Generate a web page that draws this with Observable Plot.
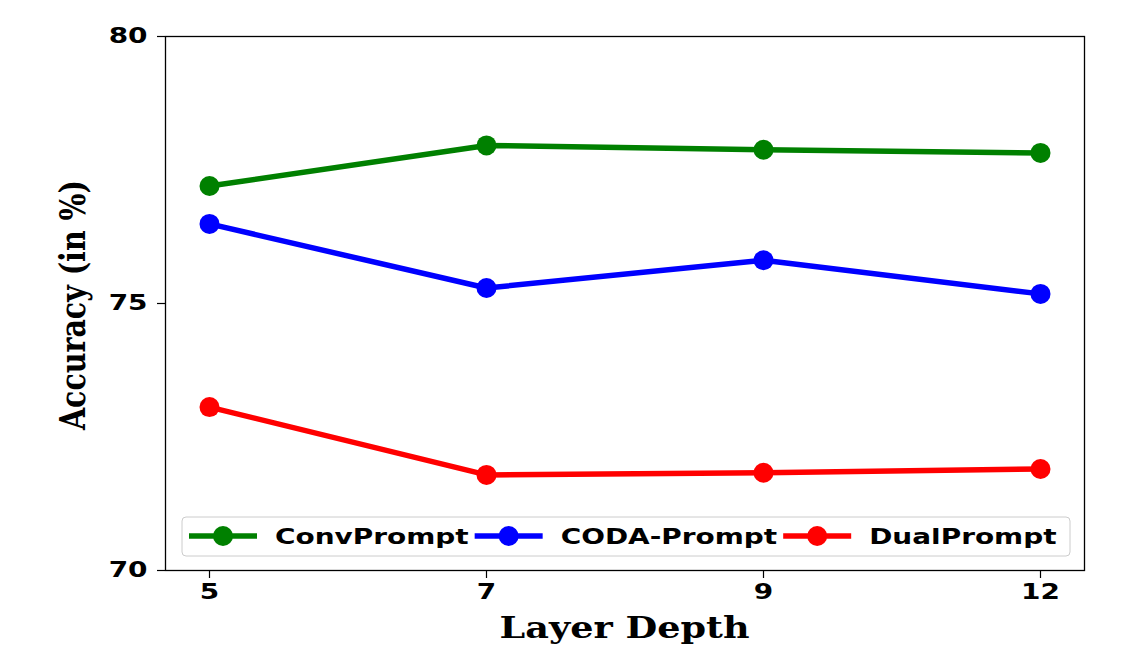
<!DOCTYPE html>
<html><head><meta charset="utf-8">
<script src="https://cdn.jsdelivr.net/npm/d3@7"></script>
<script src="https://cdn.jsdelivr.net/npm/@observablehq/plot@0.6"></script>
<style>
body{margin:0;background:#fff}
#chart{position:relative;width:1144px;height:646px;overflow:hidden}
#chart svg text{font-weight:bold}
</style>
</head><body><div id="chart"></div>
<script>
const layers = ["5", "7", "9", "12"];
const convPrompt = [77.20, 77.96, 77.88, 77.82];
const codaPrompt = [76.49, 75.29, 75.81, 75.18];
const dualPrompt = [73.06, 71.79, 71.83, 71.90];
const seriesNames = ["ConvPrompt", "CODA-Prompt", "DualPrompt"];
const seriesColors = ["#008000", "#0000ff", "#ff0000"];
const yTicks = [70, 75, 80];
const xLabel = "Layer Depth";
const yLabel = "Accuracy (in %)";

const data = [];
[convPrompt, codaPrompt, dualPrompt].forEach((vals, i) =>
  vals.forEach((v, j) => data.push({layer: layers[j], acc: v, series: seriesNames[i]})));

const plot = Plot.plot({
  width: 1144, height: 646,
  marginLeft: 165, marginRight: 60, marginTop: 36, marginBottom: 76,
  style: {background: "#fff", fontFamily: "DejaVu Sans", fontSize: "21px", color: "#000", overflow: "visible"},
  x: {type: "point", domain: layers, padding: 0.155, label: null},
  y: {domain: [70, 80], label: null},
  color: {domain: seriesNames, range: seriesColors},
  marks: [
    Plot.axisX({tickSize: 8, tickPadding: 6, fontSize: 21, stroke: "#000", strokeWidth: 1.2, label: null}),
    Plot.axisY({ticks: yTicks, tickSize: 8, tickPadding: 10, fontSize: 21, stroke: "#000", strokeWidth: 1.2, label: null}),
    Plot.line(data, {x: "layer", y: "acc", z: "series", stroke: "series", strokeWidth: 5.5}),
    Plot.dot(data, {x: "layer", y: "acc", fill: "series", r: 10}),
    Plot.frame({stroke: "#000", strokeWidth: 1.3})
  ]
});
document.getElementById("chart").appendChild(plot);

const svg = d3.select(plot);
// widen tick labels like the reference rendering
svg.selectAll('g[aria-label$="tick label"] text').each(function() {
  const w = this.getComputedTextLength();
  this.setAttribute("textLength", w * 1.33);
  this.setAttribute("lengthAdjust", "spacingAndGlyphs");
});

// axis titles
svg.append("text")
  .attr("x", (165 + 1084) / 2).attr("y", 638)
  .attr("text-anchor", "middle")
  .attr("font-family", "DejaVu Serif").attr("font-size", 30).attr("font-weight", "bold")
  .attr("textLength", 250).attr("lengthAdjust", "spacingAndGlyphs")
  .text(xLabel);
svg.append("text")
  .attr("transform", "translate(85,305) scale(1.3,1) rotate(-90)")
  .attr("text-anchor", "middle")
  .attr("font-family", "DejaVu Serif").attr("font-size", 27).attr("font-weight", "bold")
  .attr("textLength", 250).attr("lengthAdjust", "spacingAndGlyphs")
  .text(yLabel);

// legend
const lg = svg.append("g").attr("text-anchor", "start");
lg.append("rect").attr("x", 182).attr("y", 517).attr("width", 888).attr("height", 39)
  .attr("rx", 4).attr("fill", "#fff").attr("fill-opacity", 0.85).attr("stroke", "#cccccc").attr("stroke-width", 1);
let cur = 189;
const ly = 536;
seriesNames.forEach((name, i) => {
  lg.append("line").attr("x1", cur).attr("x2", cur + 68).attr("y1", ly).attr("y2", ly)
    .attr("stroke", seriesColors[i]).attr("stroke-width", 5.5);
  lg.append("circle").attr("cx", cur + 34).attr("cy", ly).attr("r", 10).attr("fill", seriesColors[i]);
  const t = lg.append("text").attr("x", cur + 86).attr("y", ly).attr("dy", "0.36em")
    .attr("text-anchor", "start")
    .attr("font-family", "DejaVu Sans").attr("font-size", 21).attr("font-weight", "bold").attr("fill", "#000")
    .text(name);
  const w = t.node().getComputedTextLength() * 1.33;
  t.attr("textLength", w).attr("lengthAdjust", "spacingAndGlyphs");
  cur = cur + 86 + w + 6;
});
</script>
</body></html>
